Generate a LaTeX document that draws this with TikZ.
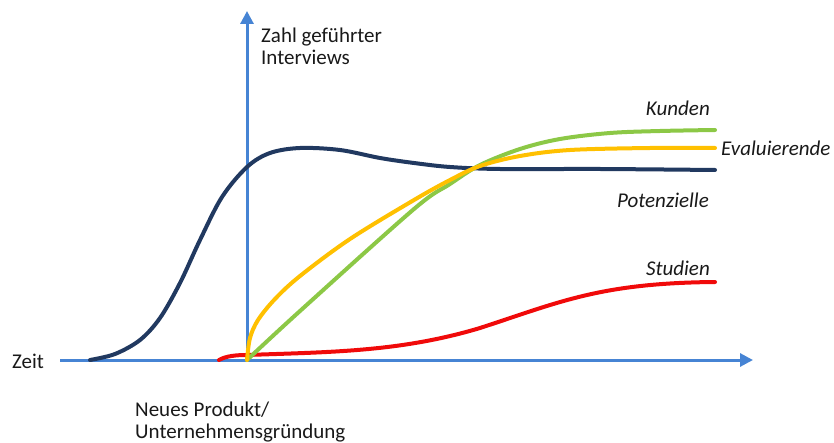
\documentclass[tikz,border=0pt]{standalone}
\usepackage{fontspec}
\setmainfont{Carlito}
\usetikzlibrary{arrows.meta}
\definecolor{axisblue}{RGB}{70,132,212}
\definecolor{navy}{RGB}{33,57,96}
\definecolor{lgreen}{RGB}{140,200,70}
\definecolor{gold}{RGB}{255,192,0}
\definecolor{cred}{RGB}{240,10,10}
\definecolor{txt}{RGB}{25,25,25}
\tikzset{
  axis/.style={axisblue, line width=3pt, -{Triangle[length=13pt,width=13pt]}},
  curve/.style={line width=4pt, line cap=round, smooth, tension=0.55},
  lbl/.style={text=txt, font=\fontsize{21}{22}\selectfont, inner sep=0pt},
  ilbl/.style={lbl, font=\fontsize{21}{22}\selectfont\itshape}
}
\begin{document}
\begin{tikzpicture}[x=1pt,y=-1pt]
\useasboundingbox (0,0) rectangle (834,443);
% axes
\coordinate (xs) at (60,360);
\coordinate (xe) at (753,360);
\coordinate (ys) at (247,360);
\coordinate (ye) at (247,11);
\draw[axis] (xs) -- (xe);
\draw[axis] (ys) -- (ye);
% curves
\draw[curve, navy] plot coordinates {(90,360) (115,354) (140,340) (160,318) (180,283) (200,240) (222,197) (247,167) (270,153) (300,148) (340,150) (380,158) (414,163) (450,167) (500,169) (600,169) (715,170)};
\draw[curve, cred] (219,360) .. controls (226,356) and (236,355) .. (247,355)
  .. controls (330,352) and (400,352) .. (480,328)
  .. controls (560,302) and (600,283) .. (715,282);
\draw[curve, lgreen] plot coordinates {(247,360) (300,311) (414,209) (450,184) (480,165) (520,149) (560,139) (610,133) (660,131) (715,130)};
\draw[curve, gold] plot coordinates {(247,360) (250,338) (258,320) (275,299) (300,276) (350,239) (414,200) (450,180) (480,166) (520,156) (570,150) (650,148) (715,148)};
% labels
\node[lbl, anchor=base west, align=left] (ylab) at (261,65) {Zahl geführter\\Interviews};
\node[lbl, anchor=west] (zeit) at (12,361) {Zeit};
\node[lbl, anchor=base west, align=left] (np) at (135,438) {Neues Produkt/\\Unternehmensgründung};
\node[ilbl, anchor=east] (kunden) at (710,108) {Kunden};
\node[ilbl, anchor=west] (eval) at (721,148) {Evaluierende};
\node[ilbl, anchor=east] (pot) at (709,200) {Potenzielle};
\node[ilbl, anchor=east] (stud) at (710,268) {Studien};
\end{tikzpicture}
\end{document}
